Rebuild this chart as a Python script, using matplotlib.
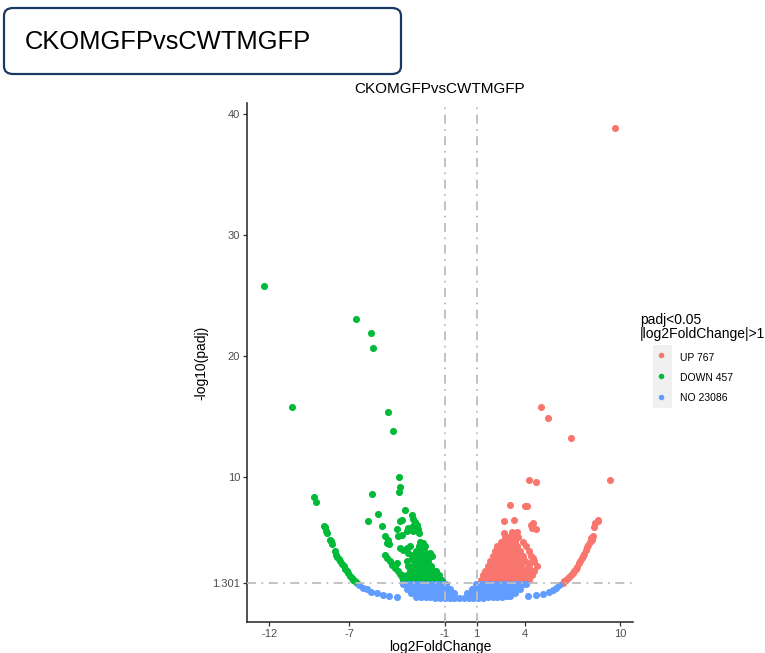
import matplotlib
matplotlib.use("Agg")
import matplotlib.pyplot as plt
from matplotlib.patches import FancyBboxPatch

plt.rcParams["font.family"] = ["Liberation Sans", "DejaVu Sans"]

title = "CKOMGFPvsCWTMGFP"
x_ticks = [-12, -7, -1, 1, 4, 10]
y_ticks = [1.301, 10, 20, 30, 40]
legend_title = "padj<0.05\n|log2FoldChange|>1"
legend_labels = ["UP 767", "DOWN 457", "NO 23086"]
colors = {"UP": "#F8766D", "DOWN": "#00BA38", "NO": "#619CFF"}

# ---- UP genes ----
up_x = [9.69, 5.06, 5.44, 6.94, 9.38, 4.25, 4.69, 3.06, 4.0, 4.17, 2.71, 3.33,
        4.38, 4.46, 4.73, 2.71, 4.52,
        # outer arc
        6.4, 6.5, 6.6, 6.7, 6.8, 6.9, 7.02, 7.1, 7.2, 7.3, 7.44, 7.5, 7.6, 7.68,
        7.75, 7.85, 7.92, 8.0, 8.08, 8.17, 8.21, 8.27, 8.38, 8.44, 8.58, 8.63,
        # dense cluster
        1.25, 1.55, 1.85, 2.15, 2.45, 2.75, 3.05, 3.35, 3.65, 3.95, 4.25,
        1.4, 1.7, 2.0, 2.3, 2.6, 2.9, 3.2, 3.5, 3.8, 4.1, 4.45,
        1.55, 1.85, 2.15, 2.45, 2.75, 3.05, 3.35, 3.65, 3.95, 4.6,
        1.7, 2.0, 2.3, 2.6, 2.9, 3.2, 3.5, 3.8, 4.75,
        1.85, 2.15, 2.45, 2.75, 3.05, 3.35, 3.7, 4.0, 4.6,
        2.0, 2.3, 2.6, 2.9, 3.2, 3.55, 3.9, 4.4,
        2.15, 2.45, 2.75, 3.05, 3.35, 3.7, 4.25,
        2.3, 2.6, 2.9, 3.2, 3.5, 4.1,
        2.5, 2.8, 3.1, 3.4, 3.9,
        2.75, 3.0, 3.3, 3.6,
        3.2, 3.5,
        # streaks on the right edge of the cluster
        4.3, 4.15, 3.95, 3.75, 3.55, 4.5, 4.35, 4.2, 3.4, 3.2]
up_y = [38.9, 15.8, 14.9, 13.25, 9.8, 9.77, 9.66, 7.74, 7.6, 7.6, 6.42, 6.5,
        6.09, 5.82, 5.74, 5.41, 6.23,
        1.29, 1.4, 1.5, 1.65, 1.8, 1.95, 2.11, 2.28, 2.45, 2.62, 2.94, 3.1, 3.3, 3.5,
        3.7, 4.03, 4.25, 4.45, 4.7, 4.99, 4.86, 5.13, 5.9, 6.23, 6.36, 6.5,
        1.5, 1.5, 1.5, 1.5, 1.5, 1.5, 1.5, 1.5, 1.5, 1.5, 1.5,
        1.9, 1.9, 1.9, 1.9, 1.9, 1.9, 1.9, 1.9, 1.9, 1.9, 1.9,
        2.3, 2.3, 2.3, 2.3, 2.3, 2.3, 2.3, 2.3, 2.3, 2.3,
        2.7, 2.7, 2.7, 2.7, 2.7, 2.7, 2.7, 2.7, 2.7,
        3.1, 3.1, 3.1, 3.1, 3.1, 3.1, 3.1, 3.1, 3.1,
        3.5, 3.5, 3.5, 3.5, 3.5, 3.5, 3.5, 3.5,
        3.9, 3.9, 3.9, 3.9, 3.9, 3.9, 3.9,
        4.3, 4.3, 4.3, 4.3, 4.3, 4.3,
        4.7, 4.7, 4.7, 4.7, 4.7,
        5.1, 5.1, 5.1, 5.1,
        5.5, 5.5,
        2.55, 2.15, 1.75, 1.45, 1.35, 3.3, 2.95, 2.6, 5.0, 5.3]

# ---- DOWN genes ----
down_x = [-12.31, -10.56, -6.56, -5.63, -5.5, -4.54, -4.25, -3.85, -3.79, -3.88,
          -5.54, -5.19, -5.81, -4.96, -4.73, -4.58, -4.52, -4.65, -3.5,
          -3.08, -2.98, -2.88, -3.81, -3.71, -4.02, -3.4, -3.29, -2.98, -3.02,
          -2.73, -2.67, -2.6, -3.92, -3.71, -3.81, -3.6, -3.4, -3.29, -3.19,
          -3.08, -2.98, -2.35, -2.25, -1.94, -1.83,
          # outer arc
          -9.19, -9.06, -8.56, -8.5, -8.44, -8.38, -8.19, -8.13, -8.06, -7.9,
          -7.81, -7.73, -7.65, -7.56, -7.45, -7.35, -7.25, -7.15, -7.05, -6.94,
          -6.84, -6.73, -6.62, -6.52,
          # inner arc
          -4.75, -4.6, -4.44, -4.3, -4.13, -4.02, -3.95, -3.81, -3.7, -3.6,
          # dense cluster
          -3.5, -3.2, -2.9, -2.6, -2.3, -2.0, -1.7, -1.4, -1.15,
          -3.7, -3.4, -3.1, -2.8, -2.5, -2.2, -1.9, -1.6, -1.35,
          -3.2, -2.9, -2.6, -2.3, -2.0, -1.75, -1.55,
          -3.3, -3.0, -2.7, -2.4, -2.1, -1.85,
          -3.4, -2.9, -2.6, -2.3, -2.05,
          -3.0, -2.7, -2.45, -2.2,
          -2.8, -2.5, -2.3,
          -2.6, -2.4,
          -2.55]
down_y = [25.8, 15.8, 23.1, 21.9, 20.7, 15.4, 13.8, 10.04, 9.25, 8.8,
          8.64, 6.94, 6.42, 5.98, 5.13, 4.8, 4.47, 4.58, 7.27,
          6.91, 6.56, 6.28, 6.36, 6.5, 5.73, 5.54, 5.82, 5.95, 5.54,
          6.09, 5.74, 5.41, 5.13, 5.27, 4.17, 4.03, 4.17, 3.76, 4.3,
          3.35, 3.62, 4.58, 4.3, 3.76, 3.48,
          8.42, 8.01, 6.0, 5.9, 5.54, 5.43, 4.86, 4.72, 4.47, 3.95,
          3.6, 3.43, 3.25, 3.07, 2.86, 2.66, 2.45, 2.25, 2.07, 1.89,
          1.72, 1.56, 1.42, 1.29,
          3.62, 3.35, 3.07, 2.8, 2.52, 2.94, 2.3, 1.98, 1.78, 1.56,
          1.5, 1.5, 1.5, 1.5, 1.5, 1.5, 1.5, 1.5, 1.5,
          1.9, 1.9, 1.9, 1.9, 1.9, 1.9, 1.9, 1.9, 1.9,
          2.3, 2.3, 2.3, 2.3, 2.3, 2.3, 2.3,
          2.7, 2.7, 2.7, 2.7, 2.7, 2.7,
          3.1, 3.1, 3.1, 3.1, 3.1,
          3.5, 3.5, 3.5, 3.5,
          3.9, 3.9, 3.9,
          4.3, 4.3,
          4.7]

# ---- NO genes ----
no_x = [-6.35, -6.1, -5.9, -5.6, -5.27, -4.9, -4.5, -3.98,
        4.2, 4.73, 5.14, 5.56, 5.8, 6.0, 6.19,
        -3.6, -3.3, -3.0, -2.7, -2.4, -2.1, -1.8, -1.5, -1.2, -0.95,
        0.95, 1.2, 1.5, 1.8, 2.1, 2.4, 2.7, 3.0, 3.3, 3.6, 3.9, 4.1,
        -3.4, -3.1, -2.8, -2.5, -2.2, -1.9, -1.6, -1.3, -1.0, -0.7,
        0.7, 1.0, 1.3, 1.6, 1.9, 2.2, 2.5, 2.8, 3.1, 3.4, 3.7,
        -3.1, -2.8, -2.5, -2.2, -1.9, -1.6, -1.3, -1.0, -0.7, -0.4,
        0.4, 0.7, 1.0, 1.3, 1.6, 1.9, 2.2, 2.5, 2.8, 3.1, 3.4,
        -2.8, -2.5, -2.2, -1.9, -1.6, -1.3, -1.0, -0.7, -0.4, -0.1, 0.2,
        0.5, 0.8, 1.1, 1.4, 1.7, 2.0, 2.3, 2.6, 2.9, 3.1]
no_y = [1.1, 0.88, 0.75, 0.55, 0.47, 0.3, 0.16, 0.08,
        0.2, 0.25, 0.39, 0.55, 0.7, 0.88, 1.1,
        1.15, 1.15, 1.15, 1.15, 1.15, 1.15, 1.15, 1.15, 1.15, 1.15,
        1.15, 1.15, 1.15, 1.15, 1.15, 1.15, 1.15, 1.15, 1.15, 1.15, 1.15, 1.15,
        0.8, 0.8, 0.8, 0.8, 0.8, 0.8, 0.8, 0.8, 0.8, 0.8,
        0.8, 0.8, 0.8, 0.8, 0.8, 0.8, 0.8, 0.8, 0.8, 0.8, 0.8,
        0.45, 0.45, 0.45, 0.45, 0.45, 0.45, 0.45, 0.45, 0.45, 0.45,
        0.45, 0.45, 0.45, 0.45, 0.45, 0.45, 0.45, 0.45, 0.45, 0.45, 0.45,
        0.14, 0.12, 0.1, 0.08, 0.06, 0.05, 0.04, 0.03, 0.02, 0.02, 0.02,
        0.03, 0.04, 0.05, 0.06, 0.08, 0.1, 0.12, 0.14, 0.17, 0.2]

fig = plt.figure(figsize=(7.65, 6.53), dpi=100)

# boxed header
box = FancyBboxPatch((4 / 765, 1 - 74 / 653), 397 / 765, 66 / 653,
                     boxstyle="round,pad=0,rounding_size=0.012",
                     transform=fig.transFigure, facecolor="white",
                     edgecolor="#1b3a63", linewidth=1.6)
fig.patches.append(box)
fig.text(25 / 765, 1 - 42 / 653, title, fontsize=18.4, va="center", ha="left")

ax = fig.add_axes([247 / 765, 31 / 653, 386 / 765, 519 / 653])
ax.scatter(up_x, up_y, s=26, color=colors["UP"], linewidths=0)
ax.scatter(down_x, down_y, s=26, color=colors["DOWN"], linewidths=0)
ax.scatter(no_x, no_y, s=26, color=colors["NO"], linewidths=0)

ls = (0, (5, 3, 1, 3))
ax.axvline(-1, color="#bdbdbd", lw=1.3, ls=ls, zorder=3)
ax.axvline(1, color="#bdbdbd", lw=1.3, ls=ls, zorder=3)
ax.axhline(1.301, color="#bdbdbd", lw=1.3, ls=ls, zorder=3)

ax.set_xlim(-13.4, 10.8)
ax.set_ylim(-1.95, 40.95)
ax.set_xticks(x_ticks)
ax.set_xticklabels([str(t) for t in x_ticks])
ax.set_yticks(y_ticks)
ax.set_yticklabels(["1.301", "10", "20", "30", "40"])
ax.tick_params(labelsize=8, labelcolor="#4d4d4d", color="#333333",
               length=3, width=0.9, pad=2)
for side in ["top", "right"]:
    ax.spines[side].set_visible(False)
for side in ["left", "bottom"]:
    ax.spines[side].set_color("#222222")
    ax.spines[side].set_linewidth(1.1)
ax.set_xlabel("log2FoldChange", fontsize=10, labelpad=1)
ax.set_ylabel("-log10(padj)", fontsize=10, labelpad=3)
ax.set_title(title, fontsize=11, pad=7)

# legend
fig.text(640 / 765, 1 - 313 / 653, legend_title, fontsize=10, va="top",
         ha="left", linespacing=1.0)
kax = fig.add_axes([653 / 765, 1 - 408 / 653, 19 / 765, 63 / 653])
kax.set_facecolor("#f0f0f0")
kax.set_xlim(0, 1)
kax.set_ylim(0, 3)
for sp in kax.spines.values():
    sp.set_visible(False)
kax.set_xticks([])
kax.set_yticks([])
kax.scatter([0.45, 0.45, 0.45], [2.5, 1.5, 0.5], s=16,
            color=[colors["UP"], colors["DOWN"], colors["NO"]], linewidths=0)
for i, lab in enumerate(legend_labels):
    fig.text(680 / 765, 1 - (358 + 20 * i) / 653, lab, fontsize=7.5,
             va="center", ha="left")

fig.savefig("out.png", dpi=100)
